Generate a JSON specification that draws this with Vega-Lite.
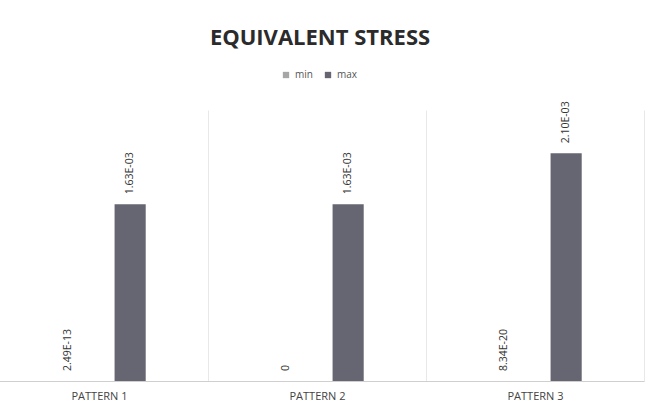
{
  "$schema": "https://vega.github.io/schema/vega-lite/v6.json",
  "width": 640,
  "height": 271,
  "autosize": {"type": "none"},
  "padding": {"left": 0, "right": 9, "top": 110, "bottom": 31},
  "background": "white",
  "view": {"stroke": null},
  "title": {"text": "EQUIVALENT STRESS", "fontSize": 22, "font": "Open Sans", "fontWeight": "bold", "color": "#2b2b2b", "anchor": "middle", "offset": 20},
  "data": {"values": [
    {"pattern": "PATTERN 1", "series": "min", "value": 2.49e-13, "label": "2.49E-13"},
    {"pattern": "PATTERN 1", "series": "max", "value": 0.00163, "label": "1.63E-03"},
    {"pattern": "PATTERN 2", "series": "min", "value": 0, "label": "0"},
    {"pattern": "PATTERN 2", "series": "max", "value": 0.00163, "label": "1.63E-03"},
    {"pattern": "PATTERN 3", "series": "min", "value": 8.34e-20, "label": "8.34E-20"},
    {"pattern": "PATTERN 3", "series": "max", "value": 0.0021, "label": "2.10E-03"}
  ]},
  "encoding": {
    "x": {"field": "pattern", "type": "nominal", "scale": {"paddingInner": 0, "paddingOuter": 0, "range": [-10, 644]},
      "axis": {"title": null, "labelAngle": 0, "tickBand": "extent", "grid": true, "gridColor": "#e8e8e8", "ticks": false, "domainColor": "#cfcfcf", "labelFont": "Open Sans", "labelFontSize": 11, "labelColor": "#444", "labelPadding": 9}},
    "xOffset": {"field": "series", "type": "nominal", "sort": ["min", "max"], "scale": {"paddingInner": 0.5, "paddingOuter": 1.12}},
    "y": {"field": "value", "type": "quantitative", "scale": {"domain": [0, 0.0025]}, "axis": null}
  },
  "layer": [
    {"mark": {"type": "bar"},
     "encoding": {"color": {"field": "series", "type": "nominal", "sort": ["min", "max"],
       "scale": {"domain": ["min", "max"], "range": ["#a6a6a6", "#666672"]},
       "legend": {"orient": "none", "legendX": 281, "legendY": -40, "direction": "horizontal", "title": null, "symbolType": "square", "symbolSize": 40, "labelFontSize": 10, "labelFont": "Open Sans", "labelColor": "#555", "columnPadding": 10, "symbolStrokeWidth": 0}}}},
    {"mark": {"type": "text", "angle": 270, "align": "left", "baseline": "middle", "dx": 10, "fontSize": 10.5, "color": "#333", "font": "Open Sans"},
     "encoding": {"text": {"field": "label"}}}
  ]
}
